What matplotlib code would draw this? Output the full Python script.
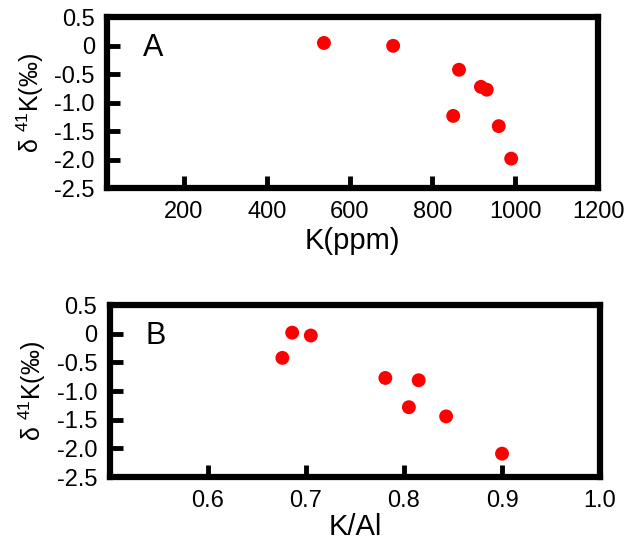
import matplotlib.pyplot as plt

plt.rcParams["font.family"] = ["Liberation Sans", "DejaVu Sans"]
plt.rcParams["mathtext.default"] = "regular"

# panel A: K concentration vs delta 41K
k_ppm = [538, 705, 864, 917, 931, 850, 960, 990]
d41k_a = [0.05, 0.0, -0.42, -0.72, -0.77, -1.23, -1.41, -1.98]

# panel B: K/Al vs delta 41K
k_al = [0.676, 0.686, 0.705, 0.781, 0.815, 0.805, 0.843, 0.900]
d41k_b = [-0.42, 0.02, -0.03, -0.77, -0.81, -1.28, -1.44, -2.09]

y_labels = ["0.5", "0", "-0.5", "-1.0", "-1.5", "-2.0", "-2.5"]
y_label_pos = [0.5, 0, -0.5, -1.0, -1.5, -2.0, -2.5]

ylabel = "δ $^{41}$K(‰)"


def style_axes(ax):
    for sp in ax.spines.values():
        sp.set_linewidth(4.5)
    ax.tick_params(direction="in", length=9, width=3.5, labelsize=17, pad=9)
    ax.set_ylim(-2.5, 0.5)
    ax.set_yticks(y_label_pos)
    ax.set_yticklabels(y_labels)
    ax.tick_params(axis="y", right=False)
    ax.tick_params(axis="x", top=False)


def hide_end_ticks(ax, xends):
    # tick marks at the ends sit on the spines, so drop them
    for t in ax.yaxis.get_major_ticks():
        if t.get_loc() in (0.5, -2.5):
            t.tick1line.set_visible(False)
    for t in ax.xaxis.get_major_ticks():
        if t.get_loc() in xends:
            t.tick1line.set_visible(False)


fig = plt.figure(figsize=(6.31, 5.41), dpi=100)

ax1 = fig.add_axes([0.170, 0.652, 0.778, 0.316])
ax1.scatter(k_ppm, d41k_a, s=100, color="#ff0000", edgecolors="none", zorder=3)
style_axes(ax1)
ax1.set_xlim(15, 1200)
ax1.set_xticks([200, 400, 600, 800, 1000, 1200])
hide_end_ticks(ax1, (1200,))
ax1.set_xlabel("K(ppm)", fontsize=21, labelpad=3)
ax1.set_ylabel(ylabel, fontsize=18, labelpad=6)
ax1.text(0.094, 0.82, "A", transform=ax1.transAxes, ha="center", va="center",
         fontsize=22)

ax2 = fig.add_axes([0.174, 0.118, 0.777, 0.318])
ax2.scatter(k_al, d41k_b, s=100, color="#ff0000", edgecolors="none", zorder=3)
style_axes(ax2)
ax2.set_xlim(0.5, 1.0)
ax2.set_xticks([0.6, 0.7, 0.8, 0.9, 1.0])
ax2.set_xticklabels(["0.6", "0.7", "0.8", "0.9", "1.0"])
hide_end_ticks(ax2, (1.0,))
ax2.set_xlabel("K/Al", fontsize=21, labelpad=1)
ax2.set_ylabel(ylabel, fontsize=18, labelpad=6)
ax2.text(0.094, 0.82, "B", transform=ax2.transAxes, ha="center", va="center",
         fontsize=22)

plt.savefig("out.png", dpi=100)
plt.close()
